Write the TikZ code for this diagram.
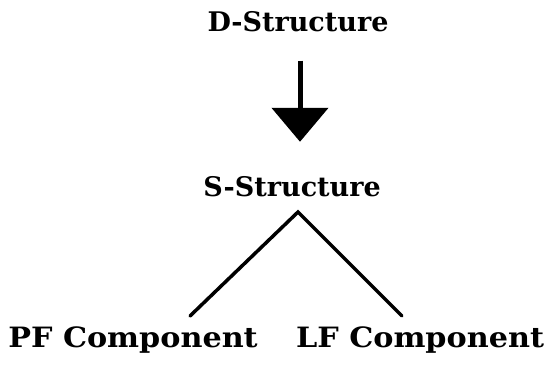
\documentclass[tikz,border=0pt]{standalone}
\usepackage{fontspec}
\setmainfont{DejaVu Serif}
\usetikzlibrary{arrows.meta,calc}
\begin{document}
\begin{tikzpicture}[x=1pt,y=-1pt,
  lbl/.style={font=\bfseries\fontsize{27}{29}\selectfont, inner sep=0pt, anchor=base},
  wide/.style={font=\bfseries\fontsize{28}{30}\selectfont, xscale=1.08, transform shape},
  branch/.style={line width=3.5pt, line cap=round},
  flow/.style={line width=5pt, -{Triangle[width=56pt,length=34pt]}}]
\useasboundingbox (0,0) rectangle (556,368);
\node[lbl] (D) at (298,31) {D-Structure};
\node[lbl] (S) at (292,196) {S-Structure};
\node[lbl,wide] (PF) at (133,347) {PF Component};
\node[lbl,wide] (LF) at (420,347) {LF Component};
\draw[flow] ($(D.south)+(2,29)$) -- ($(S.north)+(8,-34)$);
\coordinate (apex) at (298,212);
\coordinate (pfend) at (190,316);
\coordinate (lfend) at (402,316);
\draw[branch] (pfend) -- (apex) -- (lfend);
\end{tikzpicture}
\end{document}
